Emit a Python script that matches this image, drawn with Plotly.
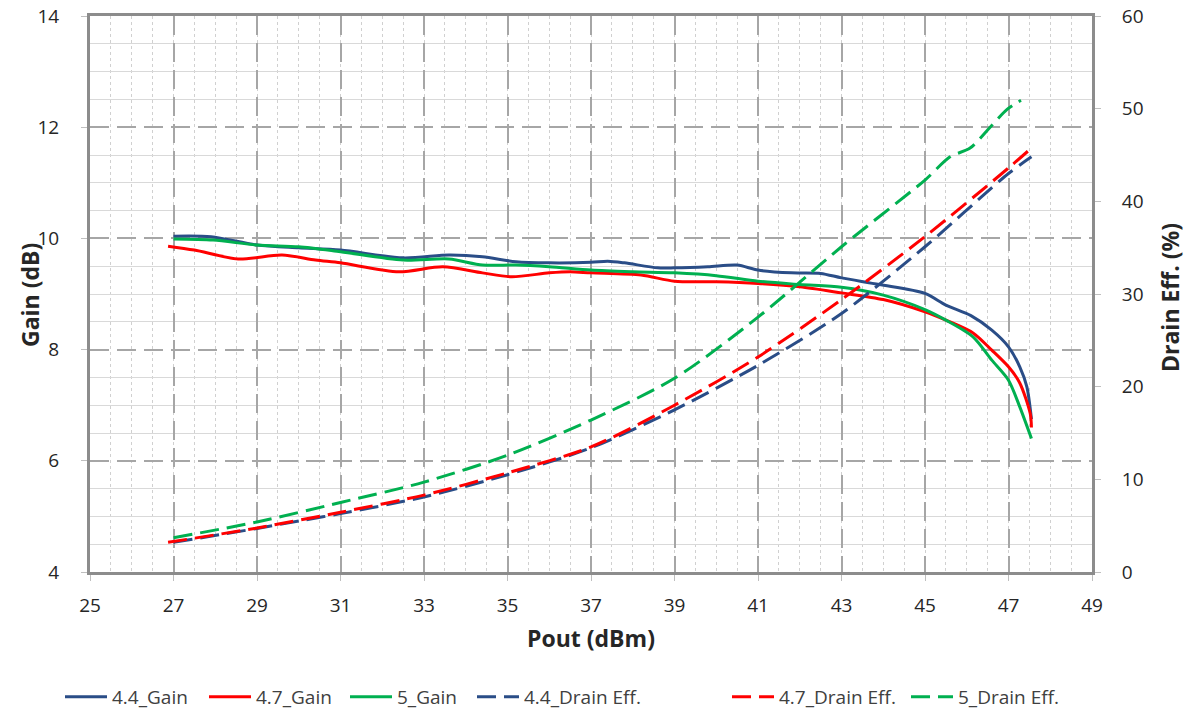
import plotly.graph_objects as go

# ---------------- data ----------------
pout_g44 = [27.0, 27.9, 29.0, 30.0, 31.0, 32.5, 33.6, 34.4, 35.2, 36.0, 37.0, 37.4, 37.8, 38.6, 39.0,
            39.8, 40.5, 41.0, 41.8, 42.5, 43.0, 43.9, 45.0, 45.5, 46.1, 46.6, 47.0, 47.27, 47.44, 47.55]
gain_44 = [10.04, 10.03, 9.88, 9.83, 9.79, 9.65, 9.70, 9.67, 9.58, 9.56, 9.57, 9.59, 9.56, 9.47, 9.47,
           9.49, 9.52, 9.43, 9.38, 9.37, 9.29, 9.17, 9.01, 8.80, 8.61, 8.35, 8.05, 7.69, 7.33, 6.75]

pout_g47 = [26.87, 27.5, 28.55, 29.6, 30.4, 31.0, 32.4, 33.45, 34.4, 35.1, 36.0, 36.5, 37.0, 38.2, 39.0,
            40.0, 41.0, 42.0, 43.0, 44.0, 45.0, 45.5, 46.15, 46.6, 47.0, 47.27, 47.52, 47.55]
gain_47 = [9.86, 9.79, 9.63, 9.70, 9.61, 9.56, 9.40, 9.49, 9.38, 9.31, 9.38, 9.40, 9.38, 9.34, 9.23,
           9.22, 9.19, 9.13, 9.02, 8.90, 8.68, 8.53, 8.30, 7.99, 7.69, 7.40, 6.85, 6.6]

pout_g5 = [27.0, 27.95, 29.0, 30.0, 31.0, 32.5, 33.6, 34.4, 35.2, 36.0, 37.0, 38.0, 39.0, 40.0, 41.0,
           42.0, 43.0, 44.0, 45.0, 45.5, 46.15, 46.6, 47.0, 47.27, 47.55]
gain_5 = [9.99, 9.97, 9.88, 9.85, 9.76, 9.61, 9.63, 9.52, 9.52, 9.49, 9.43, 9.40, 9.38, 9.33, 9.23,
          9.17, 9.12, 8.98, 8.72, 8.53, 8.23, 7.81, 7.45, 6.97, 6.40]

pout_d44 = [27.0, 29.0, 30.0, 31.0, 33.0, 35.0, 37.0, 39.0, 41.0, 43.0, 45.0, 47.0, 47.55]
eff_44 = [3.2, 4.7, 5.5, 6.3, 8.1, 10.5, 13.4, 17.5, 22.3, 27.9, 35.1, 43.0, 44.8]

pout_d47 = [26.87, 29.0, 31.0, 33.0, 35.0, 37.0, 39.0, 41.0, 43.0, 45.0, 47.0, 47.55]
eff_47 = [3.2, 4.75, 6.45, 8.3, 10.7, 13.5, 18.0, 23.2, 29.4, 36.2, 43.6, 45.75]

pout_d5 = [27.0, 29.0, 31.0, 33.0, 35.0, 37.0, 39.0, 41.0, 43.0, 45.0, 45.6, 46.08, 46.56, 46.96, 47.3]
eff_5 = [3.7, 5.4, 7.5, 9.7, 12.6, 16.4, 20.9, 27.5, 35.1, 42.3, 44.8, 45.75, 48.0, 49.9, 50.9]

x_ticks = list(range(25, 50, 2))

# ---------------- styles ----------------
BLUE = "#2A4D87"
RED = "#FF0000"
GREEN = "#00B050"
DASH = "19px,8px"
FONT = "Open Sans"
AXIS_COLOR = "#8C8C8C"
TEXT = "#262626"

W, H = 1192, 713
PL, PR, PT, PB = 90, 1092, 16, 572  # plot area in page pixels

fig = go.Figure()

series = [
    (pout_g44, gain_44, "4.4_Gain", BLUE, "solid", "y"),
    (pout_g47, gain_47, "4.7_Gain", RED, "solid", "y"),
    (pout_g5, gain_5, "5_Gain", GREEN, "solid", "y"),
    (pout_d44, eff_44, "4.4_Drain Eff.", BLUE, DASH, "y2"),
    (pout_d47, eff_47, "4.7_Drain Eff.", RED, DASH, "y2"),
    (pout_d5, eff_5, "5_Drain Eff.", GREEN, DASH, "y2"),
]
# text start positions of legend entries (page px)
legend_text_x = [113, 257, 398, 525, 780, 959]
legend_names = ["legend", "legend2", "legend3", "legend4", "legend5", "legend6"]
ITEMW = 42

legend_layout = {}
for i, (xs, ys, name, col, dash, yax) in enumerate(series):
    fig.add_trace(go.Scatter(
        x=xs, y=ys, name=name, mode="lines", yaxis=yax, legend=legend_names[i],
        line=dict(color=col, width=3, dash=dash, shape="spline", smoothing=0.8),
    ))
    legend_layout[legend_names[i]] = dict(
        xref="container", yref="container",
        x=(legend_text_x[i] - ITEMW - 11) / W, xanchor="left",
        y=1 - 697 / H, yanchor="middle",
        orientation="h", itemwidth=ITEMW,
        font=dict(family=FONT, size=19, color="#404040"),
        bgcolor="rgba(0,0,0,0)", borderwidth=0,
    )

pw, ph = PR - PL, PB - PT
title_font = dict(family=FONT, size=23, color=TEXT)
annotations = [
    dict(text="<b>Pout (dBm)</b>", x=(591 - PL) / pw, y=(PB - 638) / ph, xref="paper", yref="paper",
         showarrow=False, xanchor="center", yanchor="middle", font=title_font),
    dict(text="<b>Gain (dB)</b>", x=(30 - PL) / pw, y=(PB - 295) / ph, xref="paper", yref="paper",
         showarrow=False, xanchor="center", yanchor="middle", textangle=-90, font=title_font),
    dict(text="<b>Drain Eff. (%)</b>", x=(1170 - PL) / pw, y=(PB - 298) / ph, xref="paper", yref="paper",
         showarrow=False, xanchor="center", yanchor="middle", textangle=-90, font=title_font),
]

fig.update_layout(
    width=W, height=H,
    margin=dict(l=PL, r=W - PR, t=PT, b=H - PB, autoexpand=False),
    paper_bgcolor="white", plot_bgcolor="white",
    font=dict(family=FONT, size=19, color=TEXT),
    showlegend=True,
    annotations=annotations,
    xaxis=dict(
        range=[25, 49], tickvals=x_ticks, ticks="outside", ticklen=6, tickcolor="#BFBFBF",
        showline=True, linecolor=AXIS_COLOR, linewidth=3, mirror=True,
        showgrid=True, gridcolor="#A6A6A6", gridwidth=2, griddash=DASH,
        minor=dict(dtick=0.5, tick0=25, showgrid=True, gridcolor="#D0D0D0", gridwidth=1, griddash="dot"),
        zeroline=False, ticklabelstandoff=8, automargin=False, ticklabeloverflow="allow",
        tickfont=dict(size=19, color=TEXT),
    ),
    yaxis=dict(
        range=[4, 14], dtick=2, ticks="outside", ticklen=6, tickcolor="#BFBFBF",
        showline=True, linecolor=AXIS_COLOR, linewidth=3, mirror=True,
        showgrid=True, gridcolor="#A6A6A6", gridwidth=2, griddash=DASH,
        minor=dict(dtick=0.5, tick0=4, showgrid=True, gridcolor="#D9D9D9", gridwidth=1, griddash="solid"),
        zeroline=False, ticklabelstandoff=18, automargin=False, ticklabeloverflow="allow",
        tickfont=dict(size=19, color=TEXT),
    ),
    yaxis2=dict(
        range=[0, 60], dtick=10, overlaying="y", side="right", ticks="outside", ticklen=6,
        tickcolor="#BFBFBF", showline=True, linecolor=AXIS_COLOR, linewidth=3,
        showgrid=False, zeroline=False, ticklabelstandoff=17, automargin=False,
        ticklabeloverflow="allow",
        tickfont=dict(size=19, color=TEXT),
    ),
    **legend_layout,
)

# remove the default 8px page margin so the figure fills the window exactly
fig.write_html("out.html", config={"displayModeBar": False},
               post_script="document.body.style.margin='0';")
